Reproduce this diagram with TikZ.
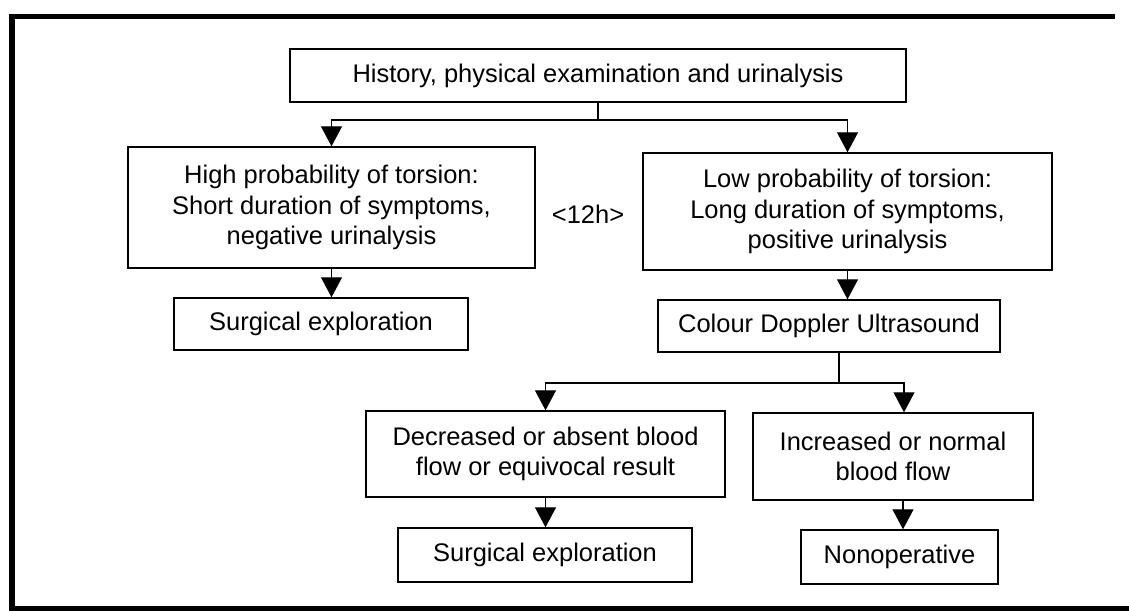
\documentclass[tikz,border=0pt]{standalone}
\usepackage{fontspec}
\setmainfont{Liberation Sans}
\usetikzlibrary{positioning,arrows.meta}

\tikzset{
  box/.style={draw, line width=0.8pt, align=center, inner sep=2pt,
    font=\fontsize{14.5}{17.5}\selectfont},
  arr/.style={line width=0.7pt, -{Triangle[length=0.4cm,width=0.42cm]}},
}

\begin{document}
\begin{tikzpicture}

\useasboundingbox (0,0) rectangle (22.58,-12.22);

% outer frame
\draw[line width=3.4pt] (22.3,-0.33) -- (0.24,-0.33) -- (0.24,-12.18) -- (22.58,-12.18);

\node[box, minimum width=12.32cm, minimum height=1.06cm] (hist) at (11.96,-1.51)
  {History, physical examination and urinalysis};

\node[box, minimum width=8.14cm, minimum height=2.42cm] (high) at (6.63,-4.15)
  {High probability of torsion:\\Short duration of symptoms,\\negative urinalysis};
\node[box, minimum width=8.18cm, minimum height=2.34cm] (low) at (16.95,-4.23)
  {Low probability of torsion:\\Long duration of symptoms,\\positive urinalysis};
\node[font=\fontsize{14.5}{17.5}\selectfont] (lim) at (11.76,-4.28) {<12h>};

\node[box, minimum width=5.88cm, minimum height=1.04cm] (surgA) at (6.42,-6.48)
  {Surgical exploration};
\node[box, minimum width=6.84cm, minimum height=1.04cm] (doppler) at (16.58,-6.52)
  {Colour Doppler Ultrasound};

\node[box, minimum width=7.18cm, minimum height=1.72cm] (decr) at (10.91,-9.08)
  {Decreased or absent blood\\flow or equivocal result};
\node[box, minimum width=5.6cm, minimum height=1.74cm] (incr) at (17.86,-9.13)
  {Increased or normal\\blood flow};

\node[box, minimum width=5.88cm, minimum height=1.08cm] (surgB) at (10.9,-11.1)
  {Surgical exploration};
\node[box, minimum width=3.94cm, minimum height=1.08cm] (nonop) at (17.99,-11.14)
  {Nonoperative};

% connectors
\coordinate (forkA) at (11.96,-2.4);
\coordinate (forkB) at (16.78,-7.66);
\draw[line width=0.7pt] (hist.south) -- (forkA);
\draw[arr] (forkA) -| (high.north);
\draw[arr] (forkA) -| (low.north);
\draw[arr] (high.south) -- (high.south |- surgA.north);
\draw[arr] (low.south) -- (low.south |- doppler.north);
\draw[line width=0.7pt] (doppler.south -| forkB) -- (forkB);
\draw[arr] (forkB) -| (decr.north);
\draw[arr] (forkB) -| ([xshift=0.22cm]incr.north);
\draw[arr] (decr.south) -- (decr.south |- surgB.north);
\draw[arr] ([xshift=0.2cm]incr.south) -- ([xshift=0.2cm]incr.south |- nonop.north);

\end{tikzpicture}
\end{document}
